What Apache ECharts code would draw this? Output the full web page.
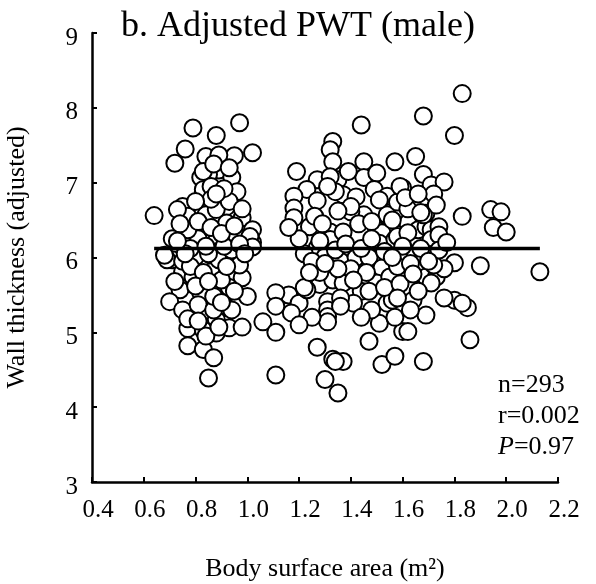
<!DOCTYPE html>
<html>
<head>
<meta charset="utf-8">
<script src="https://cdn.jsdelivr.net/npm/echarts@6/dist/echarts.min.js"></script>
<style>html,body{margin:0;padding:0;background:#fff;}#c{width:596px;height:584px;}</style>
</head>
<body>
<div id="c"></div>
<script>
// ---- data (body surface area m^2, adjusted wall thickness) ----
const xTicks = [0.4, 0.6, 0.8, 1.0, 1.2, 1.4, 1.6, 1.8, 2.0, 2.2];
const yTicks = [3, 4, 5, 6, 7, 8, 9];
const clusterA = [
[0.64,6.56],[0.72,7.26],[0.76,7.45],[0.79,7.73],[0.88,7.63],[0.97,7.80],[1.02,7.40],[0.95,7.36],[0.84,7.35],[0.89,7.37],
[0.89,7.17],[0.85,7.11],[0.82,7.07],[0.94,7.07],[0.83,6.88],[0.96,6.88],[0.75,6.68],[0.77,6.55],[0.84,6.57],[0.92,6.68],
[0.98,6.53],[1.02,6.37],[0.71,6.25],[0.81,6.25],[0.88,6.22],[0.96,6.28],[1.02,6.20],[0.71,5.97],[0.75,5.81],[0.79,5.74],
[0.86,5.81],[0.95,5.81],[0.98,5.73],[0.74,5.57],[0.70,5.41],[0.84,5.57],[0.91,5.50],[1.00,5.48],[0.75,5.30],[0.83,5.27],
[0.92,5.33],[0.88,5.17],[0.77,5.05],[0.84,5.01],[0.88,4.99],[0.93,5.06],[0.98,5.07],[0.77,4.82],[0.83,4.77],[0.87,4.66],
[0.85,4.39],[1.06,5.14],[0.83,7.15],[0.83,6.91],[0.86,6.95],[0.88,6.64],[0.93,6.75],[0.92,6.46],[1.01,6.28],[0.77,6.37],
[0.73,6.64],[0.69,5.97],[0.80,6.01],[0.89,5.97],[0.95,6.01],[0.75,5.95],[0.68,6.03],[0.94,6.10],[1.02,6.14],[0.82,5.53],
[0.81,5.37],[0.93,5.60],[0.94,5.30],[0.87,5.30],[0.83,5.03],[0.84,4.95],[0.89,5.07],[0.78,6.12],[0.85,6.05],[0.91,6.15],
[0.97,6.18],[0.74,6.45],[0.81,6.48],[0.86,6.40],[0.90,6.32],[0.95,6.42],[0.78,5.88],[0.83,5.80],[0.90,5.70],[0.97,5.90],
[0.72,5.68],[0.80,5.62],[0.87,5.48],[0.95,5.55],[0.77,5.18],[0.90,5.40],[0.86,6.78],[0.91,6.92],[0.80,6.75],[0.87,7.25],
[0.93,7.20],[0.84,6.15],[0.76,6.05],[0.99,6.05],[0.92,5.88],[0.81,5.15],[0.73,6.22],[0.88,6.85],[0.98,6.65],[0.85,5.68]
];
const clusterB = [
[1.19,7.15],[1.44,7.77],[1.33,7.55],[1.32,7.44],[1.33,7.28],[1.45,7.28],[1.45,7.07],[1.50,7.13],[1.27,7.04],[1.35,7.04],
[1.32,7.08],[1.23,6.91],[1.18,6.82],[1.37,6.84],[1.27,6.76],[1.18,6.66],[1.18,6.53],[1.42,6.81],[1.49,6.91],[1.54,6.82],
[1.45,6.57],[1.54,6.57],[1.40,6.61],[1.24,6.41],[1.32,6.34],[1.32,6.24],[1.37,6.34],[1.50,6.37],[1.52,6.33],[1.34,6.88],
[1.40,6.68],[1.51,6.77],[1.51,6.19],[1.57,6.24],[1.27,6.13],[1.30,6.01],[1.36,5.95],[1.42,6.00],[1.47,6.00],[1.52,5.86],
[1.27,5.77],[1.28,5.64],[1.33,5.70],[1.37,5.66],[1.44,5.55],[1.50,5.66],[1.55,5.74],[1.16,5.50],[1.20,5.39],[1.17,5.26],
[1.23,5.57],[1.31,5.41],[1.31,5.30],[1.31,5.21],[1.31,5.14],[1.41,5.39],[1.54,5.39],[1.56,5.43],[1.51,5.12],[1.11,5.00],
[1.47,4.88],[1.27,4.80],[1.33,4.64],[1.37,4.61],[1.52,4.57],[1.57,4.68],[1.30,4.37],[1.35,4.19],[1.11,4.43],[1.11,5.53],
[1.11,5.35],[1.22,5.60],[1.28,5.80],[1.36,5.46],[1.34,4.61],
[1.22,6.05],[1.25,5.95],[1.28,6.22],[1.34,6.10],[1.38,6.18],[1.40,5.85],[1.44,6.12],[1.48,6.25],[1.46,5.80],[1.53,6.08],
[1.35,5.85],[1.30,5.92],[1.43,6.45],[1.26,6.55],[1.35,6.62],[1.48,6.48],[1.20,6.25],[1.16,6.40],[1.24,5.80],[1.41,5.70],
[1.47,5.55],[1.53,5.60],[1.48,5.30],[1.44,5.20],[1.36,5.35],[1.25,5.20],[1.20,5.10],[1.31,6.95],[1.39,7.15],[1.29,6.45]
];
const clusterC = [
[1.57,7.28],[1.65,7.35],[1.68,7.11],[1.60,6.93],[1.58,6.74],[1.62,6.46],[1.58,6.28],[1.66,6.37],[1.69,6.41],[1.59,6.95],
[1.69,6.59],[1.71,6.97],[1.71,6.37],[1.62,6.33],[1.71,6.24],[1.58,5.88],[1.65,6.04],[1.71,6.04],[1.69,5.74],[1.73,5.74],
[1.64,5.43],[1.69,5.23],[1.60,5.01],[1.62,5.01],[1.68,4.61],[1.83,8.19],[1.68,7.89],[1.80,7.63],[1.76,7.01],[1.72,6.85],
[1.73,6.70],[1.68,6.57],[1.74,6.41],[1.83,6.55],[1.94,6.64],[1.98,6.61],[1.95,6.40],[2.00,6.34],[1.80,5.93],[1.90,5.89],
[2.13,5.81],[1.76,5.85],[1.85,5.33],[1.86,4.90],[1.80,5.43],[1.83,5.39],[1.76,5.46],[1.71,5.66],[1.60,6.15],[1.63,5.92],
[1.67,6.12],[1.56,6.00],[1.56,6.50],[1.62,6.65],[1.59,5.65],[1.64,5.78],[1.66,5.55],[1.72,5.90],[1.74,6.30],[1.74,6.10],
[1.57,5.20],[1.61,6.80],[1.66,6.85],[1.77,6.20],[1.63,5.30],[1.70,5.95],[1.58,5.46],[1.67,6.60]
];
const fitLine = [[0.64, 6.12], [2.13, 6.12]];
const statsText = ['n=293', 'r=0.002', '{i|P}=0.97'];

const FONT = '"Liberation Serif","Times New Roman",serif';
const allPoints = clusterA.concat(clusterB, clusterC);

const chart = echarts.init(document.getElementById('c'), null, {renderer: 'canvas'});
chart.setOption({
  animation: false,
  backgroundColor: '#fff',
  grid: {left: 92, right: 38, top: 33, bottom: 102, containLabel: false, outerBoundsMode: 'none'},
  xAxis: {
    type: 'value', min: xTicks[0], max: xTicks[xTicks.length - 1], interval: 0.2,
    splitLine: {show: false},
    axisLine: {show: true, onZero: false, lineStyle: {color: '#000', width: 2.5}},
    axisTick: {show: true, inside: true, length: 5, lineStyle: {color: '#000', width: 2}},
    axisLabel: {color: '#000', fontFamily: FONT, fontSize: 25, margin: 16,
      formatter: v => '{a|' + v.toFixed(1) + '}',
      rich: {a: {color: '#000', fontFamily: FONT, fontSize: 25, padding: [0, 0, 0, 12]}}},
    name: 'Body surface area (m²)', nameLocation: 'middle', nameGap: 74,
    nameTextStyle: {color: '#000', fontFamily: FONT, fontSize: 26}
  },
  yAxis: {
    type: 'value', min: yTicks[0], max: yTicks[yTicks.length - 1], interval: 1,
    splitLine: {show: false},
    axisLine: {show: true, onZero: false, lineStyle: {color: '#000', width: 2.5}},
    axisTick: {show: true, inside: true, length: 5, lineStyle: {color: '#000', width: 2}},
    axisLabel: {color: '#000', fontFamily: FONT, fontSize: 25, margin: 14,
      formatter: v => '{b|' + v + '}',
      rich: {b: {color: '#000', fontFamily: FONT, fontSize: 25, padding: [10, 0, 0, 0]}}},
    name: 'Wall thickness (adjusted)', nameLocation: 'middle', nameGap: 62, nameRotate: 90,
    nameTextStyle: {color: '#000', fontFamily: FONT, fontSize: 26}
  },
  series: [
    {
      type: 'scatter', data: allPoints, symbol: 'circle', symbolSize: 17,
      itemStyle: {color: '#fff', borderColor: '#000', borderWidth: 2, opacity: 1},
      z: 2
    },
    {
      type: 'line', data: fitLine, symbol: 'none',
      lineStyle: {color: '#000', width: 3.5}, z: 5
    }
  ],
  graphic: [
    {type: 'text', left: 121, top: 9, z: 10,
      style: {text: 'b. Adjusted PWT (male)', fill: '#000', font: '36px ' + FONT}},
    {type: 'text', left: 498, top: 370, z: 10,
      style: {text: statsText.join('\n'), fill: '#000', fontFamily: FONT, fontSize: 26, lineHeight: 31,
        rich: {i: {fontStyle: 'italic', fontFamily: FONT, fontSize: 26, lineHeight: 31}}}}
  ]
});
</script>
</body>
</html>
